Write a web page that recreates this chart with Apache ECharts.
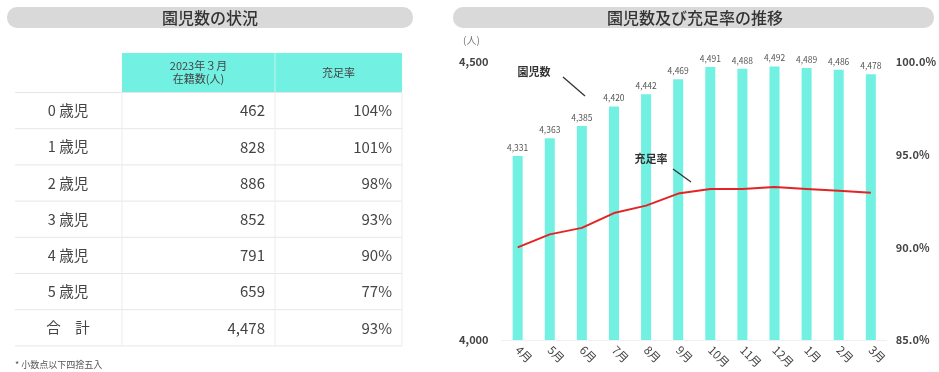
<!DOCTYPE html>
<html><head><meta charset="utf-8">
<script src="https://cdn.jsdelivr.net/npm/echarts@6/dist/echarts.min.js"></script>
<style>html,body{margin:0;padding:0;background:#fff;}#c{width:939px;height:372px;}</style>
</head><body><div id="c"></div>
<script>
// ---- Data ----
var ageLabels = ['0 歳児','1 歳児','2 歳児','3 歳児','4 歳児','5 歳児','合　計'];
var enrolled = [462, 828, 886, 852, 791, 659, 4478];
var fillRate = [104, 101, 98, 93, 90, 77, 93];
var months = ['4月','5月','6月','7月','8月','9月','10月','11月','12月','1月','2月','3月'];
var childCount = [4331, 4363, 4385, 4420, 4442, 4469, 4491, 4488, 4492, 4489, 4486, 4478];
var rateTrend = [90.0, 90.7, 91.05, 91.85, 92.25, 92.9, 93.15, 93.15, 93.25, 93.15, 93.05, 92.95];
var leftTicks = [4000, 4500];
var rightTicks = [85, 90, 95, 100];

var FONT = '"Noto Sans CJK JP", "Noto Sans", sans-serif';
var CYAN = '#72f0e2';
var fmt = function(v){ return v.toString().replace(/\B(?=(\d{3})+(?!\d))/g, ','); };

// ---- Table graphics ----
var g = [];
// title bars
g.push({type:'rect', shape:{x:7,y:7,width:406,height:21,r:10}, style:{fill:'#d9d9d9'}});
g.push({type:'text', x:210, y:17.5, style:{text:'園児数の状況', font:'500 16px '+FONT, fill:'#333', align:'center', verticalAlign:'middle'}});
g.push({type:'rect', shape:{x:453,y:7,width:481,height:21,r:10}, style:{fill:'#d9d9d9'}});
g.push({type:'text', x:695, y:17.5, style:{text:'園児数及び充足率の推移', font:'500 16px '+FONT, fill:'#333', align:'center', verticalAlign:'middle'}});

var cx = [15, 122, 275, 402];
var headTop = 53, headBot = 92.5, rowH = 36.2;
g.push({type:'rect', shape:{x:cx[1],y:headTop,width:cx[3]-cx[1],height:headBot-headTop}, style:{fill:CYAN}});
g.push({type:'line', shape:{x1:cx[2],y1:headTop,x2:cx[2],y2:headBot}, style:{stroke:'#bff6ef',lineWidth:1}});
g.push({type:'text', x:(cx[1]+cx[2])/2, y:72.5, style:{text:'2023年３月\n在籍数(人)', font:'11px '+FONT, lineHeight:13, fill:'#444', align:'center', verticalAlign:'middle'}});
g.push({type:'text', x:(cx[2]+cx[3])/2, y:72.5, style:{text:'充足率', font:'11px '+FONT, fill:'#444', align:'center', verticalAlign:'middle'}});
var tableBot = headBot + rowH*ageLabels.length;
g.push({type:'line', shape:{x1:cx[0],y1:headBot,x2:cx[3],y2:headBot}, style:{stroke:'#e6e6e6',lineWidth:1}});
for (var i=0;i<ageLabels.length;i++){
  var yTop = headBot + rowH*i, yMid = yTop + rowH/2, yB = yTop + rowH;
  g.push({type:'line', shape:{x1:cx[0],y1:yB,x2:cx[3],y2:yB}, style:{stroke:'#e6e6e6',lineWidth:1}});
  g.push({type:'text', x:68, y:yMid, style:{text:ageLabels[i], font:'14.5px '+FONT, fill:'#444', align:'center', verticalAlign:'middle'}});
  g.push({type:'text', x:265, y:yMid, style:{text:fmt(enrolled[i]), font:'15px '+FONT, fill:'#444', align:'right', verticalAlign:'middle'}});
  g.push({type:'text', x:392, y:yMid, style:{text:fillRate[i]+'%', font:'15px '+FONT, fill:'#444', align:'right', verticalAlign:'middle'}});
}
[cx[1], cx[2], cx[3]].forEach(function(x){
  g.push({type:'line', shape:{x1:x,y1:headBot,x2:x,y2:tableBot}, style:{stroke:'#ececec',lineWidth:1}});
});
g.push({type:'text', x:15, y:365, style:{text:'* 小数点以下四捨五入', font:'9px '+FONT, fill:'#555', align:'left', verticalAlign:'middle'}});

// chart annotations
g.push({type:'text', z:100, x:463, y:40, style:{text:'(人)', font:'10px '+FONT, fill:'#777', align:'left', verticalAlign:'middle'}});
g.push({type:'text', z:100, x:534, y:72, style:{text:'園児数', font:'bold 11px '+FONT, fill:'#333', align:'center', verticalAlign:'middle'}});
g.push({type:'line', z:100, shape:{x1:563,y1:77,x2:585,y2:96}, style:{stroke:'#333',lineWidth:1.3}});
g.push({type:'text', z:100, x:651, y:159, style:{text:'充足率', font:'bold 11px '+FONT, fill:'#333', align:'center', verticalAlign:'middle'}});
g.push({type:'line', z:100, shape:{x1:673,y1:169,x2:691,y2:182}, style:{stroke:'#333',lineWidth:1.3}});

var chart = echarts.init(document.getElementById('c'), null, {renderer:'canvas'});
chart.setOption({
  animation:false,
  textStyle:{fontFamily:FONT},
  grid:{left:501.6, right:50.2, top:62, bottom:32, containLabel:false},
  xAxis:{type:'category', data:months,
    axisLine:{show:true, lineStyle:{color:'#f0f0f0'}}, axisTick:{show:false},
    axisLabel:{rotate:-45, fontSize:11.5, color:'#444', margin:8, fontFamily:FONT}},
  yAxis:[
    {type:'value', min:leftTicks[0], max:leftTicks[leftTicks.length-1], interval:leftTicks[1]-leftTicks[0],
      splitLine:{show:false}, axisLine:{show:false}, axisTick:{show:false},
      axisLabel:{fontSize:11, fontWeight:'bold', color:'#444', margin:13, formatter:function(v){return fmt(v);}}},
    {type:'value', min:rightTicks[0], max:rightTicks[rightTicks.length-1], interval:rightTicks[1]-rightTicks[0],
      splitLine:{show:false}, axisLine:{show:false}, axisTick:{show:false},
      axisLabel:{fontSize:11, fontWeight:'bold', color:'#444', margin:9, formatter:function(v){return v.toFixed(1)+'%';}}}
  ],
  series:[
    {type:'bar', data:childCount, barWidth:10, itemStyle:{color:CYAN},
      label:{show:true, position:'top', distance:4, fontSize:8.5, color:'#555', formatter:function(p){return fmt(p.value);}}},
    {type:'line', yAxisIndex:1, data:rateTrend, symbol:'none', lineStyle:{color:'#e32424', width:2}, itemStyle:{color:'#e32424'}, z:5}
  ],
  graphic:g
});
</script></body></html>
